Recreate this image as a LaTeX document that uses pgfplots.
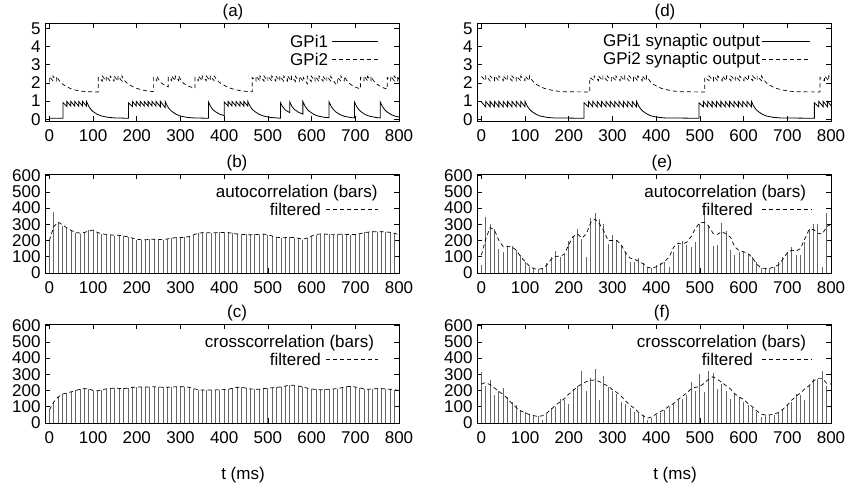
\documentclass[border=0pt]{standalone}
\usepackage{fontspec}
\setmainfont{Liberation Sans}
\usepackage{pgfplots}
\usepackage{pgfplotstable}
\pgfplotsset{compat=1.18}
\newcommand\fs{\fontsize{17}{20}\selectfont}

% correlation panels: t, bar height, filtered curve
\pgfplotstableread{
t bar filt
0 200 200
10 375 285
20 310 314
30 290 296
40 275 278
50 258 262
60 247 250
70 243 246
80 250 250
90 262 258
100 268 265
110 248 250
120 240 241
130 236 238
140 235 235
150 230 232
160 234 232
170 226 228
180 220 222
190 214 215
200 206 208
210 204 205
220 206 205
230 208 207
240 207 208
250 209 207
260 204 205
270 212 210
280 216 215
290 220 218
300 217 218
310 222 220
320 226 225
330 236 235
340 247 245
350 250 248
360 246 248
370 249 247
380 247 248
390 252 250
400 248 250
410 250 248
420 244 245
430 241 240
440 236 238
450 238 236
460 233 235
470 239 237
480 236 238
490 242 240
500 235 236
510 226 228
520 221 220
530 216 218
540 219 218
550 221 220
560 216 218
570 215 214
580 206 208
590 216 215
600 230 228
610 237 238
620 242 240
630 238 240
640 240 238
650 236 238
660 240 238
670 238 240
680 240 238
690 234 236
700 240 238
710 241 242
720 250 248
730 251 252
740 256 254
750 253 255
760 256 254
770 251 253
780 252 250
790 246 245
800 0 235
}\autob

\pgfplotstableread{
t bar filt
0 80 80
10 130 130
20 162 160
30 180 178
40 186 185
50 190 192
60 202 200
70 208 207
80 214 212
90 210 210
100 198 200
110 200 198
120 204 205
130 212 210
140 212 213
150 216 215
160 212 213
170 214 212
180 216 215
190 221 220
200 224 222
210 221 222
220 223 222
230 222 222
240 224 223
250 221 222
260 219 220
270 222 220
280 223 222
290 222 223
300 225 223
310 223 224
320 218 220
330 210 212
340 204 205
350 202 203
360 204 203
370 202 203
380 205 204
390 204 205
400 207 206
410 209 208
420 214 215
430 221 220
440 220 220
450 214 215
460 211 210
470 207 208
480 209 208
490 211 212
500 216 215
510 216 217
520 221 220
530 223 222
540 227 228
550 233 232
560 231 232
570 229 228
580 221 222
590 216 215
600 209 210
610 207 206
620 204 205
630 207 206
640 207 208
650 211 210
660 211 212
670 219 218
680 223 224
690 226 225
700 221 222
710 217 216
720 209 210
730 209 208
740 209 210
750 213 212
760 211 212
770 211 210
780 207 208
790 206 205
800 0 200
}\crossc

\pgfplotstableread{
t bar filt
0 50 110
10 345 210
20 300 280
30 270 265
40 150 200
50 130 162
60 165 165
70 165 160
80 140 140
90 110 100
100 70 70
110 40 42
120 30 27
130 25 22
140 30 28
150 60 50
160 100 85
170 135 102
180 100 104
190 110 115
200 200 175
210 230 225
220 270 240
230 210 215
240 100 240
250 340 310
260 370 332
270 330 305
280 300 260
290 180 200
300 235 200
310 200 200
320 170 175
330 130 125
340 70 92
350 70 85
360 90 72
370 60 58
380 30 35
390 30 30
400 50 38
410 60 52
420 70 72
430 40 100
440 130 160
450 170 182
460 200 178
470 170 190
480 160 225
490 190 275
500 300 310
510 390 312
520 290 290
530 165 245
540 175 238
550 305 255
560 260 240
570 140 220
580 110 160
590 130 138
600 130 131
610 120 120
620 100 95
630 70 55
640 30 30
650 30 28
660 30 29
670 40 38
680 70 50
690 100 85
700 130 125
710 160 141
720 110 135
730 110 150
740 190 210
750 270 268
760 300 268
770 300 245
780 40 240
790 370 285
800 0 300
}\autoe

\pgfplotstableread{
t bar filt
0 315 240
10 230 250
20 265 235
30 175 215
40 200 195
50 215 175
60 160 150
70 130 120
80 110 95
90 75 75
100 70 62
110 55 52
120 50 45
130 45 40
140 20 45
150 55 62
160 90 85
170 100 110
180 150 130
190 140 150
200 120 178
210 210 200
220 230 225
230 320 240
240 200 255
250 280 263
260 330 265
270 140 255
280 290 240
290 220 228
300 200 205
310 180 188
320 130 165
330 120 135
340 90 110
350 70 90
360 60 65
370 50 45
380 20 30
390 30 38
400 50 55
410 60 70
420 80 85
430 100 105
440 115 120
450 140 145
460 150 165
470 175 185
480 250 210
490 200 220
500 300 225
510 190 245
520 320 270
530 310 285
540 210 270
550 240 250
560 200 230
570 150 210
580 180 180
590 160 160
600 130 145
610 110 120
620 90 100
630 70 75
640 40 55
650 50 50
660 50 50
670 50 55
680 60 65
690 80 85
700 110 110
710 130 140
720 180 165
730 170 185
740 140 210
750 230 230
760 270 260
770 270 275
780 320 275
790 230 245
800 0 240
}\crossf

\tikzset{
  sol/.style={black, line width=0.8pt},
  dsh/.style={black, line width=0.7pt, dash pattern=on 4pt off 3pt},
}
\pgfplotsset{
  panel/.style={
    scale only axis, width=354pt,
    xmin=-10, xmax=800,
    xtick={0,100,...,800},
    tick align=inside, tick pos=both,
    major tick length=5pt,
    axis line style={line width=0.8pt},
    every tick/.style={black, line width=0.6pt},
    ticklabel style={font=\fs},
    xticklabel style={yshift=-5pt},
    yticklabel style={xshift=-1pt},
    /pgf/number format/assume math mode=true,
    anchor=south west,
  },
  gp/.style={panel, height=98pt, ymin=-0.1, ymax=5.3, ytick={0,...,5}},
  cor/.style={panel, height=99pt, ymin=0, ymax=610, ytick={0,100,...,600}},
  bars/.style={ycomb, black!60, line width=0.9pt, mark=none},
}

\begin{document}
\begin{tikzpicture}
\useasboundingbox (0pt,0pt) rectangle (850pt,489pt);

% ---------- (a)
\begin{axis}[gp, at={(45pt,368pt)}]
\addplot[sol] coordinates {(0,0.05)(31,0.05)(31,0.92)(40,0.7)(40,0.98)(49,0.72)(49,0.98)(58,0.72)(58,0.98)(67,0.72)(67,0.98)(76,0.72)(76,0.98)(85,0.72)(85,0.98)(90,0.72)(95,0.54)(100,0.42)(110,0.26)(120,0.17)(135,0.1)(150,0.07)(181,0.05)
(181,0.9)(190,0.7)(190,0.98)(199,0.72)(199,0.98)(208,0.72)(208,0.98)(217,0.72)(217,0.98)(226,0.72)(226,0.98)(235,0.72)(235,0.98)(244,0.72)(244,0.98)(254,0.68)(254,0.98)(265,0.64)(265,0.98)(270,0.72)(275,0.55)(280,0.43)(290,0.27)(300,0.17)(315,0.1)(330,0.07)(364,0.05)
(364,0.95)(369,0.7)(374,0.53)(380,0.41)(390,0.27)(400,0.2)(400,0.95)(409,0.72)(409,0.98)(418,0.72)(418,0.98)(427,0.72)(427,0.98)(436,0.72)(436,0.98)(445,0.72)(445,0.98)(454,0.72)(454,0.98)(459,0.72)(464,0.55)(470,0.42)(480,0.27)(490,0.17)(505,0.1)(529,0.05)
(529,0.9)(534,0.68)(540,0.5)(550,0.36)(550,0.95)(555,0.7)(560,0.55)(570,0.38)(580,0.28)(580,0.98)(585,0.72)(590,0.55)(595,0.43)(605,0.27)(615,0.17)(630,0.1)(640,0.08)(640,0.95)(645,0.7)(650,0.53)(655,0.41)(665,0.25)(675,0.16)(690,0.09)(698,0.07)(698,0.95)(703,0.7)(708,0.53)(713,0.41)(723,0.25)(733,0.16)(748,0.09)(757,0.07)(757,0.95)(762,0.7)(767,0.53)(772,0.41)(782,0.25)(792,0.16)(800,0.12)};
\addplot[dsh] coordinates {(0,2.05)(0,2.35)(8,2.12)(8,2.38)(16,2.12)(16,2.36)(21,2.18)(26,2.02)(31,1.92)(40,1.78)(50,1.67)(60,1.6)(75,1.54)(90,1.51)(112,1.5)
(112,2.3)(121,2.1)(121,2.38)(130,2.1)(130,2.38)(139,2.1)(139,2.38)(148,2.1)(148,2.38)(157,2.1)(157,2.38)(166,2.1)(166,2.38)(171,2.15)(176,2.02)(181,1.93)(190,1.8)(200,1.7)(210,1.62)(225,1.55)(238,1.52)
(238,2.3)(246,2.12)(246,2.38)(251,2.15)(256,2.0)(262,1.9)(272,1.78)(272,2.3)(280,2.12)(280,2.38)(288,2.12)(288,2.38)(296,2.12)(296,2.38)(301,2.15)(306,2.0)(312,1.9)(320,1.8)(333,1.7)(333,2.3)(341,2.12)(341,2.38)(350,2.12)(350,2.38)(359,2.12)(359,2.38)(368,2.12)(368,2.38)(377,2.12)(377,2.38)(383,2.18)(388,2.05)(395,1.93)(405,1.8)(415,1.7)(425,1.63)(440,1.56)(455,1.52)(464,1.51)
(464,2.3)(473,2.1)(473,2.38)(482,2.1)(482,2.38)(491,2.1)(491,2.38)(500,2.1)(500,2.38)(509,2.1)(509,2.38)(518,2.1)(518,2.38)(527,2.1)(527,2.38)(536,2.1)(536,2.38)(545,2.1)(545,2.38)(554,2.1)(554,2.36)(563,2.08)(563,2.36)(572,2.08)(572,2.36)(581,2.08)(581,2.3)(590,1.95)(590,2.36)(599,2.08)(599,2.38)(608,2.1)(608,2.36)(617,2.08)(617,2.38)(626,2.1)(626,2.36)(635,2.08)(635,2.36)(644,2.1)(644,2.36)(649,2.15)(655,1.95)(659,1.88)
(659,2.3)(667,2.1)(667,2.38)(675,2.12)(675,2.36)(680,2.15)(686,1.98)(695,1.82)(705,1.72)(712,1.68)(712,2.3)(720,2.12)(720,2.38)(728,2.12)(728,2.36)(736,2.12)(736,2.36)(741,2.15)(747,1.98)(755,1.84)(765,1.72)(773,1.66)(773,2.3)(781,2.12)(781,2.38)(789,2.12)(789,2.38)(797,2.12)(797,2.38)(800,2.2)};
\node[anchor=east, inner sep=0pt, font=\fs] at (rel axis cs:0.80,0.81) {GPi1};
\draw[sol] (rel axis cs:0.81,0.81) -- (rel axis cs:0.94,0.81);
\node[anchor=east, inner sep=0pt, font=\fs] at (rel axis cs:0.80,0.625) {GPi2};
\draw[dsh] (rel axis cs:0.81,0.625) -- (rel axis cs:0.94,0.625);
\end{axis}

% ---------- (d)
\begin{axis}[gp, at={(477pt,368pt)}]
\addplot[sol] coordinates {(0,0.95)(10,0.68)(10,0.98)(20,0.68)(20,0.98)(30,0.68)(30,0.98)(40,0.68)(40,0.98)(50,0.68)(50,0.98)(60,0.68)(60,0.98)(70,0.68)(70,0.98)(80,0.68)(80,0.98)(90,0.68)(90,0.98)(100,0.68)(100,0.98)(105,0.72)(110,0.55)(115,0.43)(125,0.27)(135,0.17)(150,0.1)(165,0.07)(235,0.05)
(235,0.9)(245,0.68)(245,0.98)(255,0.68)(255,0.98)(265,0.68)(265,0.98)(275,0.68)(275,0.98)(285,0.68)(285,0.98)(295,0.68)(295,0.98)(305,0.68)(305,0.98)(315,0.68)(315,0.98)(325,0.68)(325,0.98)(335,0.68)(335,0.98)(345,0.68)(345,0.98)(355,0.68)(355,0.98)(360,0.72)(365,0.55)(370,0.43)(380,0.27)(390,0.17)(405,0.1)(420,0.07)(498,0.05)
(498,0.9)(508,0.68)(508,0.98)(518,0.68)(518,0.98)(528,0.68)(528,0.98)(538,0.68)(538,0.98)(548,0.68)(548,0.98)(558,0.68)(558,0.98)(568,0.68)(568,0.98)(578,0.68)(578,0.98)(588,0.68)(588,0.98)(598,0.68)(598,0.98)(608,0.68)(608,0.98)(618,0.68)(618,0.98)(623,0.72)(628,0.55)(633,0.43)(643,0.27)(653,0.17)(668,0.1)(683,0.07)(762,0.05)
(762,0.9)(772,0.68)(772,0.98)(782,0.68)(782,0.98)(792,0.68)(792,0.98)(800,0.75)};
\addplot[dsh] coordinates {(0,2.35)(10,2.12)(10,2.38)(20,2.12)(20,2.38)(30,2.12)(30,2.38)(40,2.12)(40,2.38)(50,2.12)(50,2.38)(60,2.12)(60,2.38)(70,2.12)(70,2.38)(80,2.12)(80,2.38)(90,2.12)(90,2.38)(100,2.12)(100,2.38)(110,2.12)(110,2.38)(115,2.18)(120,2.03)(125,1.93)(135,1.79)(145,1.69)(160,1.6)(175,1.54)(190,1.51)(248,1.5)
(248,2.3)(258,2.12)(258,2.38)(268,2.12)(268,2.38)(278,2.12)(278,2.38)(288,2.12)(288,2.38)(298,2.12)(298,2.38)(308,2.12)(308,2.38)(318,2.12)(318,2.38)(328,2.12)(328,2.38)(338,2.12)(338,2.38)(348,2.12)(348,2.38)(358,2.12)(358,2.38)(368,2.12)(368,2.38)(378,2.12)(378,2.38)(383,2.18)(388,2.03)(393,1.93)(403,1.79)(413,1.69)(428,1.6)(443,1.54)(458,1.51)(511,1.5)
(511,2.3)(521,2.12)(521,2.38)(531,2.12)(531,2.38)(541,2.12)(541,2.38)(551,2.12)(551,2.38)(561,2.12)(561,2.38)(571,2.12)(571,2.38)(581,2.12)(581,2.38)(591,2.12)(591,2.38)(601,2.12)(601,2.38)(611,2.12)(611,2.38)(621,2.12)(621,2.38)(631,2.12)(631,2.38)(641,2.12)(641,2.38)(646,2.18)(651,2.03)(656,1.93)(666,1.79)(676,1.69)(691,1.6)(706,1.54)(721,1.51)(775,1.5)
(775,2.3)(785,2.12)(785,2.38)(795,2.12)(795,2.38)(800,2.2)};
\node[anchor=east, inner sep=0pt, font=\fs] at (rel axis cs:0.80,0.81) {GPi1 synaptic output};
\draw[sol] (rel axis cs:0.805,0.81) -- (rel axis cs:0.94,0.81);
\node[anchor=east, inner sep=0pt, font=\fs] at (rel axis cs:0.80,0.625) {GPi2 synaptic output};
\draw[dsh] (rel axis cs:0.805,0.625) -- (rel axis cs:0.94,0.625);
\end{axis}

% ---------- (b)
\begin{axis}[cor, at={(45pt,216pt)}]
\addplot[bars] table[x=t, y=bar] {\autob};
\addplot[dsh] table[x=t, y=filt] {\autob};
\node[anchor=east, inner sep=0pt, font=\fs] at (rel axis cs:0.94,0.81) {autocorrelation (bars)};
\node[anchor=east, inner sep=0pt, font=\fs] at (rel axis cs:0.78,0.645) {filtered};
\draw[dsh] (rel axis cs:0.795,0.645) -- (rel axis cs:0.94,0.645);
\end{axis}

% ---------- (e)
\begin{axis}[cor, at={(477pt,216pt)}]
\addplot[bars] table[x=t, y=bar] {\autoe};
\addplot[dsh] table[x=t, y=filt] {\autoe};
\node[anchor=east, inner sep=0pt, font=\fs] at (rel axis cs:0.93,0.81) {autocorrelation (bars)};
\node[anchor=east, inner sep=0pt, font=\fs] at (rel axis cs:0.78,0.645) {filtered};
\draw[dsh] (rel axis cs:0.805,0.645) -- (rel axis cs:0.945,0.645);
\end{axis}

% ---------- (c)
\begin{axis}[cor, at={(45pt,66pt)}]
\addplot[bars] table[x=t, y=bar] {\crossc};
\addplot[dsh] table[x=t, y=filt] {\crossc};
\node[anchor=east, inner sep=0pt, font=\fs] at (rel axis cs:0.93,0.81) {crosscorrelation (bars)};
\node[anchor=east, inner sep=0pt, font=\fs] at (rel axis cs:0.78,0.64) {filtered};
\draw[dsh] (rel axis cs:0.795,0.64) -- (rel axis cs:0.94,0.64);
\end{axis}

% ---------- (f)
\begin{axis}[cor, at={(477pt,66pt)}]
\addplot[bars] table[x=t, y=bar] {\crossf};
\addplot[dsh] table[x=t, y=filt] {\crossf};
\node[anchor=east, inner sep=0pt, font=\fs] at (rel axis cs:0.93,0.81) {crosscorrelation (bars)};
\node[anchor=east, inner sep=0pt, font=\fs] at (rel axis cs:0.78,0.64) {filtered};
\draw[dsh] (rel axis cs:0.805,0.64) -- (rel axis cs:0.945,0.64);
\end{axis}

% panel titles and axis labels
\node[font=\fs] at (233pt,477pt) {(a)};
\node[font=\fs] at (665pt,477pt) {(d)};
\node[font=\fs] at (237pt,326pt) {(b)};
\node[font=\fs] at (662pt,326pt) {(e)};
\node[font=\fs] at (237pt,176pt) {(c)};
\node[font=\fs] at (662pt,176pt) {(f)};
\node[font=\fs] at (243pt,14pt) {t (ms)};
\node[font=\fs] at (675pt,14pt) {t (ms)};
\end{tikzpicture}
\end{document}
